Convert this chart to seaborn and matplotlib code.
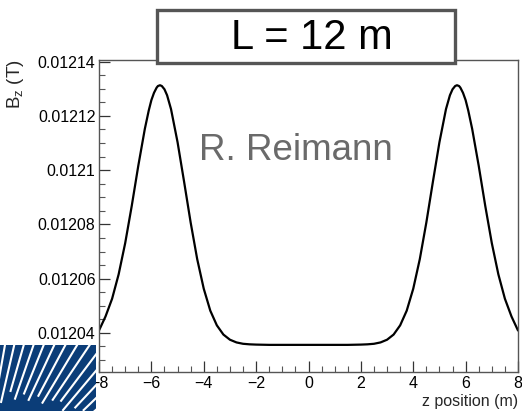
import numpy as np
import pandas as pd
import matplotlib
matplotlib.use("Agg")
import matplotlib.pyplot as plt
from matplotlib.patches import Rectangle
from matplotlib.ticker import MultipleLocator, FixedLocator, FixedFormatter
import seaborn as sns

# Axial field profile along the beam axis (z in m, Bz in T)
z_position = [
    -8.0, -7.75, -7.5, -7.25, -7.0, -6.75, -6.5, -6.25, -6.1, -6.0, -5.9,
    -5.8, -5.75, -5.67, -5.6, -5.5, -5.4, -5.25, -5.0, -4.75, -4.5, -4.25,
    -4.0, -3.75, -3.5, -3.25, -3.0, -2.75, -2.5, -2.25, -2.0, -1.5, -1.0,
    -0.5, 0.0,
    0.5, 1.0, 1.5, 2.0, 2.25, 2.5, 2.75, 3.0, 3.25, 3.5, 3.75, 4.0, 4.25,
    4.5, 4.75, 5.0, 5.25, 5.4, 5.5, 5.6, 5.67, 5.75, 5.8, 5.9, 6.0, 6.1,
    6.25, 6.5, 6.75, 7.0, 7.25, 7.5, 7.75, 8.0,
]
bz_field = [
    0.0120409, 0.0120461, 0.0120526, 0.0120616, 0.0120731, 0.0120868,
    0.0121016, 0.0121152, 0.0121220, 0.0121258, 0.0121285,
    0.0121304, 0.0121310, 0.0121313, 0.0121310, 0.0121298, 0.0121276,
    0.0121225, 0.0121103, 0.0120957, 0.0120807, 0.0120672,
    0.0120563, 0.0120482, 0.0120428, 0.0120394, 0.0120375, 0.0120365,
    0.0120360, 0.0120358, 0.0120357, 0.0120356, 0.0120356,
    0.0120356, 0.0120356,
    0.0120356, 0.0120356, 0.0120356, 0.0120357, 0.0120358, 0.0120360,
    0.0120365, 0.0120375, 0.0120394, 0.0120428, 0.0120482, 0.0120563,
    0.0120672, 0.0120807, 0.0120957, 0.0121103, 0.0121225, 0.0121276,
    0.0121298, 0.0121310, 0.0121313, 0.0121310, 0.0121304, 0.0121285,
    0.0121258, 0.0121220, 0.0121152, 0.0121016, 0.0120868, 0.0120731,
    0.0120616, 0.0120526, 0.0120461, 0.0120409,
]

y_ticks = [0.01204, 0.01206, 0.01208, 0.0121, 0.01212, 0.01214]
y_tick_labels = ["0.01204", "0.01206", "0.01208", "0.0121", "0.01212", "0.01214"]
x_ticks = [-8, -6, -4, -2, 0, 2, 4, 6, 8]

title_text = "L = 12 m"
author_text = "R. Reimann"

sns.set_style("ticks")
plt.rcParams["font.family"] = ["Liberation Sans", "DejaVu Sans"]
plt.rcParams["mathtext.fontset"] = "custom"
plt.rcParams["mathtext.rm"] = "Liberation Sans"
plt.rcParams["mathtext.it"] = "Liberation Sans"

W, H = 522, 411
fig = plt.figure(figsize=(W / 100, H / 100), dpi=100)
fig.patch.set_facecolor("white")

ax = fig.add_axes([99 / W, 1 - 372 / H, (518 - 99) / W, (372 - 60) / H])

df = pd.DataFrame({"z": z_position, "Bz": bz_field})
sns.lineplot(data=df, x="z", y="Bz", ax=ax, color="black", linewidth=1.6,
             sort=False, estimator=None)

ax.set_xlim(-8, 8)
ax.set_ylim(0.0120256, 0.0121406)

ax.xaxis.set_major_locator(FixedLocator(x_ticks))
ax.xaxis.set_minor_locator(MultipleLocator(0.5))
ax.yaxis.set_major_locator(FixedLocator(y_ticks))
ax.yaxis.set_major_formatter(FixedFormatter(y_tick_labels))
ax.yaxis.set_minor_locator(MultipleLocator(0.000005))

ax.tick_params(axis="both", which="major", direction="in", length=8,
               width=0.9, color="#333333", labelsize=11.5, labelcolor="black")
ax.tick_params(axis="both", which="minor", direction="in", length=4,
               width=0.8, color="#555555")
ax.tick_params(axis="y", which="major", pad=2.5)
ax.tick_params(axis="x", which="major", pad=3)
ax.tick_params(top=False, right=False, which="both")

for side in ["left", "bottom", "top", "right"]:
    ax.spines[side].set_visible(True)
    ax.spines[side].set_color("#555555")
    ax.spines[side].set_linewidth(1.0)

ax.set_xlabel("z position (m)", loc="right", fontsize=11.5, labelpad=2)
ax.set_ylabel("")
fig.text(16 / W, 1 - 59 / H, r"B$_{\mathregular{z}}$ (T)", rotation=90,
         ha="center", va="top", fontsize=13.5)

# Author watermark inside the plot area
fig.text(296 / W, 1 - 150 / H, author_text, ha="center", va="center",
         fontsize=26.5, color="#6a6a6a")

# Framed title box overlapping the top of the frame
fig.patches.append(Rectangle((157 / W, 1 - 63 / H), (455 - 157) / W, 53 / H,
                             transform=fig.transFigure, facecolor="white",
                             edgecolor="#555555", linewidth=2.4, zorder=3))
fig.text(312 / W, 1 - 38 / H, title_text, ha="center", va="center",
         fontsize=30, color="black", zorder=4)

# Institute logo: navy tile with white rays in the lower-left corner
logo = fig.add_axes([0, 0, 96 / W, (411 - 345) / H])
logo.set_xlim(0, 96)
logo.set_ylim(66, 0)
logo.set_facecolor("#0b3d78")
for s in logo.spines.values():
    s.set_visible(False)
logo.set_xticks([])
logo.set_yticks([])
cx, cy = -25, 170
ray_angles = [86, 83, 80, 77, 74, 71, 68, 65, 62, 59, 56, 53, 50, 47, 44,
              41, 38]
ray_starts = [120, 118, 125, 115, 128, 122, 130, 126, 134, 130, 138, 142,
              136, 146, 150, 156, 162]
for ang, s0 in zip(ray_angles, ray_starts):
    a = np.deg2rad(ang)
    r = np.array([s0, 260])
    logo.plot(cx + r * np.cos(a), cy - r * np.sin(a), color="white",
              linewidth=1.5, solid_capstyle="butt")

fig.savefig("out.png", dpi=100, facecolor="white")
